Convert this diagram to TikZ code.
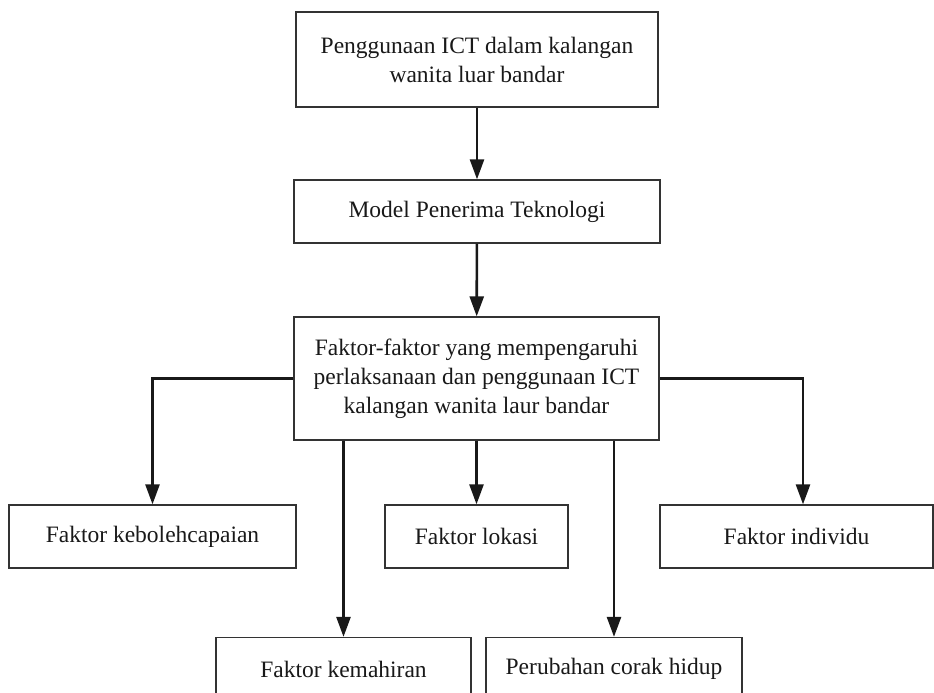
\documentclass[tikz,border=0pt]{standalone}
\usepackage{fontspec}
\setmainfont{Liberation Serif}
\usetikzlibrary{arrows.meta}
\begin{document}
\begin{tikzpicture}[x=1pt,y=-1pt,
  box/.style={draw=black!80,line width=1.3pt,rectangle,align=center,inner sep=0pt,
    font=\fontsize{23.5}{29}\selectfont,text=black!90},
  arr/.style={line width=2.6pt,-{Triangle[length=20pt,width=14pt]},black!90}]
\useasboundingbox (0,0) rectangle (934,693);
\clip (0,0) rectangle (934,693);
\fill[white] (0,0) rectangle (934,693);
\node[box,minimum width=362pt,minimum height=95pt] (top) at (477,59.5)
  {Penggunaan ICT dalam kalangan\\wanita luar bandar};
\node[box,minimum width=366pt,minimum height=63pt] (model) at (477,211.5)
  {Model Penerima Teknologi};
\node[box,minimum width=365pt,minimum height=123pt] (fak) at (476.5,378.5)
  {Faktor-faktor yang mempengaruhi\\perlaksanaan dan penggunaan ICT\\kalangan wanita laur bandar};
\node[box,minimum width=287pt,minimum height=63pt] (kebo) at (152.5,536.5)
  {Faktor kebolehcapaian};
\node[box,minimum width=183pt,minimum height=63pt] (lok) at (476.5,536.5)
  {Faktor lokasi};
\node[box,minimum width=273pt,minimum height=63pt] (ind) at (796.5,536.5)
  {Faktor individu};
\node[box,minimum width=255pt,minimum height=63pt] (kem) at (343.5,669)
  {Faktor kemahiran};
\node[box,minimum width=256pt,minimum height=63pt] (per) at (614,669)
  {Perubahan corak hidup};
\coordinate (indtop) at ([xshift=6.5pt]ind.north);
\draw[arr] (top) -- (model);
\draw[arr] (model) -- (fak);
\draw[arr] (fak.west) -| (kebo.north);
\draw[arr] (fak.east) -| (indtop);
\draw[arr] (fak.south) -- (lok.north);
\draw[arr] (fak.south -| kem.north) -- (kem.north);
\draw[arr] (fak.south -| per.north) -- (per.north);
\end{tikzpicture}
\end{document}
